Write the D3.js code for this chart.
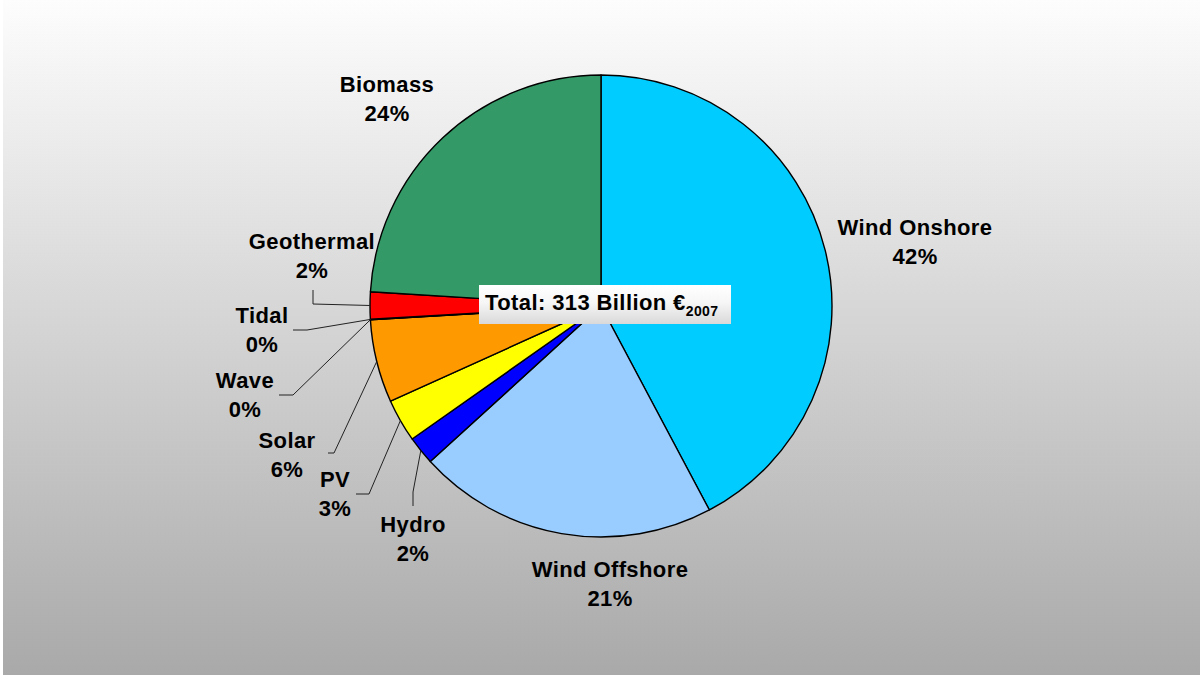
<!DOCTYPE html>
<html>
<head>
<meta charset="utf-8">
<script src="https://cdn.jsdelivr.net/npm/d3@7/dist/d3.min.js"></script>
<style>
  html, body { margin: 0; padding: 0; background: #ffffff; }
  svg { display: block; }
  text { font-family: "Liberation Sans", Arial, sans-serif; font-weight: bold; letter-spacing: 0.4px; }
</style>
</head>
<body>
<svg id="chart" width="1200" height="675"></svg>
<script>
// Investment share by technology (percent of total), clockwise from 12 o'clock
const categories = ["Wind Onshore", "Wind Offshore", "Hydro", "PV", "Solar", "Wave", "Tidal", "Geothermal", "Biomass"];
const shares     = [42.2, 21.0, 2.0, 3.0, 5.8, 0.02, 0.02, 1.9, 24.0];
const totalValue = 313;          // billion euro
const totalYear  = "2007";       // price base

const colors = ["#00CCFF", "#99CCFF", "#0000FF", "#FFFF00", "#FF9900", "#CC99FF", "#993366", "#FF0000", "#339966"];

// Label placement: centre x, first baseline y, optional leader elbow points (label side)
const labelLayout = {
  "Wind Onshore":  { x: 915, y: 235 },
  "Wind Offshore": { x: 610, y: 577 },
  "Hydro":         { x: 413, y: 532, leader: [[413, 492], [413, 506]] },
  "PV":            { x: 335, y: 487, leader: [[369, 494], [356, 494]] },
  "Solar":         { x: 287, y: 448, leader: [[334, 453], [328, 453]] },
  "Wave":          { x: 245, y: 388, leader: [[293, 395], [279, 395]] },
  "Tidal":         { x: 262, y: 323, leader: [[307, 330], [293, 330]] },
  "Geothermal":    { x: 312, y: 249, leader: [[313, 304], [313, 290]] },
  "Biomass":       { x: 387, y: 92 }
};

const W = 1200, H = 675;
const cx = 601, cy = 306, R = 231;

const svg = d3.select("#chart");
const defs = svg.append("defs");

// Slide background: light at the top, grey at the bottom
const bg = defs.append("linearGradient").attr("id", "bgGrad")
  .attr("x1", 0).attr("y1", 0).attr("x2", 0).attr("y2", 1);
bg.append("stop").attr("offset", "0%").attr("stop-color", "#fdfdfd");
bg.append("stop").attr("offset", "100%").attr("stop-color", "#a9a9a9");

const boxGrad = defs.append("linearGradient").attr("id", "boxGrad")
  .attr("x1", 0).attr("y1", 0).attr("x2", 0).attr("y2", 1);
boxGrad.append("stop").attr("offset", "0%").attr("stop-color", "#ffffff");
boxGrad.append("stop").attr("offset", "45%").attr("stop-color", "#f6f6f6");
boxGrad.append("stop").attr("offset", "100%").attr("stop-color", "#d9d9d9");

svg.append("rect").attr("x", 3).attr("y", 0).attr("width", W - 3).attr("height", H)
  .attr("fill", "url(#bgGrad)");

const data = categories.map((c, i) => ({ name: c, value: shares[i], color: colors[i] }));

const pie = d3.pie().sort(null).value(d => d.value).startAngle(0).endAngle(2 * Math.PI);
const arcs = pie(data);

const arc = d3.arc().innerRadius(0).outerRadius(R);
const edge = d3.arc().innerRadius(R).outerRadius(R);

const g = svg.append("g").attr("transform", `translate(${cx},${cy})`);

g.selectAll("path.slice")
  .data(arcs)
  .join("path")
  .attr("class", "slice")
  .attr("d", arc)
  .attr("fill", d => d.data.color)
  .attr("stroke", "#000")
  .attr("stroke-width", 1.4)
  .attr("stroke-linejoin", "round");

// Leader lines from the slice edge to its label
const lineGen = d3.line();
arcs.forEach(d => {
  const lay = labelLayout[d.data.name];
  if (!lay.leader) return;
  const [ex, ey] = edge.centroid(d);
  const pts = [[cx + ex, cy + ey], ...lay.leader];
  svg.append("path")
    .attr("d", lineGen(pts))
    .attr("fill", "none")
    .attr("stroke", "#222")
    .attr("stroke-width", 1);
});

// Category labels with rounded percentages
arcs.forEach(d => {
  const lay = labelLayout[d.data.name];
  const t = svg.append("text")
    .attr("text-anchor", "middle")
    .attr("font-size", 22)
    .attr("fill", "#000");
  t.append("tspan").attr("x", lay.x).attr("y", lay.y).text(d.data.name);
  t.append("tspan").attr("x", lay.x).attr("y", lay.y + 29)
    .text(Math.round(d.data.value) + "%");
});

// Total annotation box
const box = svg.append("g");
box.append("rect")
  .attr("x", cx - 122).attr("y", cy - 21)
  .attr("width", 252).attr("height", 39)
  .attr("fill", "url(#boxGrad)");
const tt = box.append("text")
  .attr("x", cx - 116).attr("y", cy + 4)
  .attr("font-size", 22)
  .attr("fill", "#000");
tt.append("tspan").text(`Total: ${totalValue} Billion €`);
tt.append("tspan").attr("dy", 6).attr("font-size", 14).text(totalYear);
</script>
</body>
</html>
